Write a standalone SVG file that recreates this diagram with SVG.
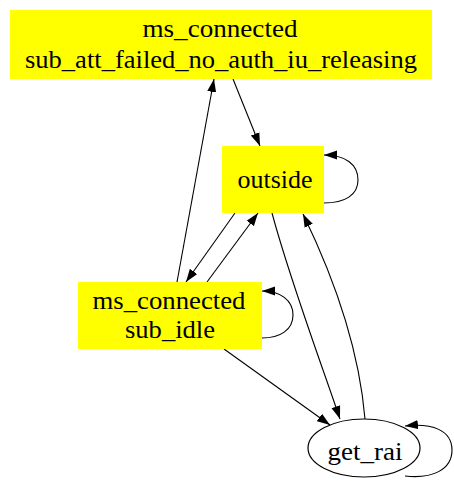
<svg xmlns="http://www.w3.org/2000/svg" width="454" height="481" viewBox="0 0 454 481">
<style>
.box{fill:#ffff00;stroke:none}
.ell{fill:#ffffff;stroke:#000;stroke-width:1.2}
.lbl{font-family:"Liberation Serif","Times New Roman",serif;font-size:25px;fill:#000;text-anchor:middle}
.edge{fill:none;stroke:#000;stroke-width:1.1;marker-end:url(#arr)}
</style>
<defs>
<marker id="arr" markerUnits="userSpaceOnUse" markerWidth="14" markerHeight="10" refX="13" refY="5" orient="auto">
<path d="M0,0.5 L13,5 L0,9.5 Z" fill="#000"/>
</marker>
</defs>
<rect width="454" height="481" fill="#fff"/>
<g id="connectors">
<path class="edge" d="M233,79 L260,146"/>
<path class="edge" d="M177,282 L214,79"/>
<path class="edge" d="M235,213 L186,282"/>
<path class="edge" d="M207,282 L258,213"/>
<path class="edge" d="M272,213 C290,280 320,360 340,419"/>
<path class="edge" d="M365,419 C360,360 340,290 303,214"/>
<path class="edge" d="M224,349 L330,425"/>
<path class="edge" d="M324,203 C345,203 358,195 358,180 C358,164 345,155 324,155"/>
<path class="edge" d="M262,338 C280,338 293,330 293,315 C293,300 280,291 262,291"/>
<path class="edge" d="M405,476 C432,479 452,470 452,450 C452,430 432,423 405,426"/>
</g>
<g id="node_top">
<rect class="box" x="10" y="10" width="422" height="69"/>
<text class="lbl" x="220" y="37" textLength="155" lengthAdjust="spacingAndGlyphs">ms_connected</text>
<text class="lbl" x="221" y="68" textLength="392" lengthAdjust="spacingAndGlyphs">sub_att_failed_no_auth_iu_releasing</text>
</g>
<g id="node_outside">
<rect class="box" x="222" y="146" width="102" height="67"/>
<text class="lbl" x="275" y="188" textLength="75" lengthAdjust="spacingAndGlyphs">outside</text>
</g>
<g id="node_sub_idle">
<rect class="box" x="78" y="282" width="184" height="67"/>
<text class="lbl" x="169" y="309" textLength="153" lengthAdjust="spacingAndGlyphs">ms_connected</text>
<text class="lbl" x="170" y="338" textLength="90" lengthAdjust="spacingAndGlyphs">sub_idle</text>
</g>
<g id="node_get_rai">
<ellipse class="ell" cx="364" cy="448" rx="56" ry="29"/>
<text class="lbl" x="365" y="460" textLength="75" lengthAdjust="spacingAndGlyphs">get_rai</text>
</g>
</svg>
